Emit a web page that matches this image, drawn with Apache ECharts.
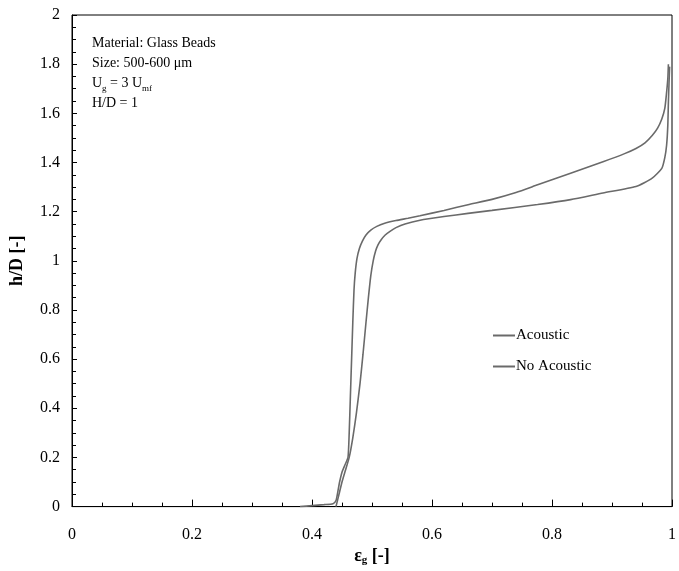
<!DOCTYPE html>
<html>
<head>
<meta charset="utf-8">
<script src="https://cdn.jsdelivr.net/npm/echarts@6/dist/echarts.min.js"></script>
<style>html,body{margin:0;padding:0;background:#fff;}#c{width:679px;height:571px;}</style>
</head>
<body>
<div id="c"></div>
<script>
// Data
var seriesNames = ['Acoustic', 'No Acoustic'];
var acousticX = [0.380, 0.400, 0.420, 0.435, 0.440, 0.443, 0.446, 0.450, 0.455, 0.460, 0.462, 0.464, 0.466, 0.468, 0.470, 0.472, 0.475, 0.479, 0.484, 0.490, 0.498, 0.508, 0.520, 0.540, 0.560, 0.580, 0.620, 0.660, 0.700, 0.740, 0.776, 0.831, 0.885, 0.920, 0.940, 0.955, 0.967, 0.976, 0.983, 0.988, 0.991, 0.993, 0.994];
var acousticH = [0.000, 0.004, 0.008, 0.012, 0.025, 0.06, 0.10, 0.14, 0.17, 0.20, 0.30, 0.45, 0.60, 0.75, 0.88, 0.95, 1.01, 1.05, 1.08, 1.105, 1.125, 1.14, 1.152, 1.164, 1.173, 1.183, 1.205, 1.228, 1.25, 1.278, 1.309, 1.356, 1.403, 1.435, 1.457, 1.48, 1.51, 1.54, 1.577, 1.62, 1.685, 1.74, 1.80];
var noAcousticX = [0.440, 0.445, 0.450, 0.456, 0.462, 0.468, 0.474, 0.480, 0.485, 0.490, 0.494, 0.498, 0.502, 0.506, 0.510, 0.515, 0.522, 0.530, 0.540, 0.555, 0.580, 0.620, 0.660, 0.700, 0.776, 0.831, 0.885, 0.940, 0.967, 0.983, 0.988, 0.991, 0.993, 0.994, 0.995, 0.996];
var noAcousticH = [0.000, 0.05, 0.10, 0.15, 0.20, 0.28, 0.38, 0.50, 0.62, 0.75, 0.85, 0.94, 1.00, 1.04, 1.065, 1.085, 1.105, 1.12, 1.135, 1.15, 1.165, 1.18, 1.193, 1.205, 1.229, 1.249, 1.276, 1.302, 1.336, 1.376, 1.42, 1.47, 1.55, 1.645, 1.72, 1.79];
var annotationLines = ['Material: Glass Beads', 'Size: 500-600 \u03bcm', 'U{sub|g} = 3 U{sub|mf}', 'H/D = 1'];

function pairs(xs, ys) { return xs.map(function (x, i) { return [x, ys[i]]; }); }

var FONT = '"Liberation Serif", "Times New Roman", serif';
var chart = echarts.init(document.getElementById('c'), null, { renderer: 'canvas' });
var lineStyle = { color: '#6a6a6a', width: 1.6 };

chart.setOption({
  animation: false,
  backgroundColor: '#fff',
  grid: { left: 65, right: 2, top: 15, bottom: 59, show: true, borderColor: '#000', borderWidth: 1 },
  legend: {
    orient: 'vertical', left: 488, top: 323, itemGap: 16,
    itemWidth: 22, itemHeight: 2, icon: 'rect',
    textStyle: { fontFamily: FONT, fontSize: 15, color: '#000', padding: [0, 0, 0, -4] },
    data: seriesNames
  },
  xAxis: {
    type: 'value', min: 0, max: 1, interval: 0.2,
    name: '\u03b5{sub|g} [-]', nameLocation: 'middle', nameGap: 36,
    nameTextStyle: { fontFamily: FONT, fontSize: 18, fontWeight: 'bold', color: '#000',
      rich: { sub: { fontFamily: FONT, fontSize: 11, fontWeight: 'bold', verticalAlign: 'bottom', padding: [8, 0, 0, 0] } } },
    axisLine: { lineStyle: { color: '#000', width: 1 } },
    axisTick: { inside: true, length: 7, lineStyle: { color: '#000' } },
    minorTick: { show: true, splitNumber: 4, length: 4, lineStyle: { color: '#000' } },
    splitLine: { show: false },
    axisLabel: { fontFamily: FONT, fontSize: 16, color: '#000', margin: 20 }
  },
  yAxis: {
    type: 'value', min: 0, max: 2, interval: 0.2,
    name: 'h/D [-]', nameLocation: 'middle', nameGap: 46, nameRotate: 90,
    nameTextStyle: { fontFamily: FONT, fontSize: 18, fontWeight: 'bold', color: '#000' },
    axisLine: { lineStyle: { color: '#000', width: 1 } },
    axisTick: { inside: true, length: 5, lineStyle: { color: '#000' } },
    minorTick: { show: true, splitNumber: 4, length: 4, lineStyle: { color: '#000' } },
    splitLine: { show: false },
    axisLabel: { fontFamily: FONT, fontSize: 16, color: '#000', margin: 12,
      formatter: function (v) { return String(Math.round(v * 10) / 10); } }
  },
  graphic: [{
    type: 'text', left: 92, top: 33,
    style: {
      text: annotationLines.join('\n'),
      fontFamily: FONT, fontSize: 14, fill: '#000', lineHeight: 20,
      rich: { sub: { fontFamily: FONT, fontSize: 9, verticalAlign: 'bottom', padding: [6, 0, 0, 0] } }
    }
  }],
  series: [
    { name: seriesNames[0], type: 'line', showSymbol: false, symbol: 'none', smooth: 0.2,
      lineStyle: lineStyle, itemStyle: { color: '#6a6a6a' }, data: pairs(acousticX, acousticH) },
    { name: seriesNames[1], type: 'line', showSymbol: false, symbol: 'none', smooth: 0.2,
      lineStyle: lineStyle, itemStyle: { color: '#6a6a6a' }, data: pairs(noAcousticX, noAcousticH) }
  ]
});
</script>
</body>
</html>
